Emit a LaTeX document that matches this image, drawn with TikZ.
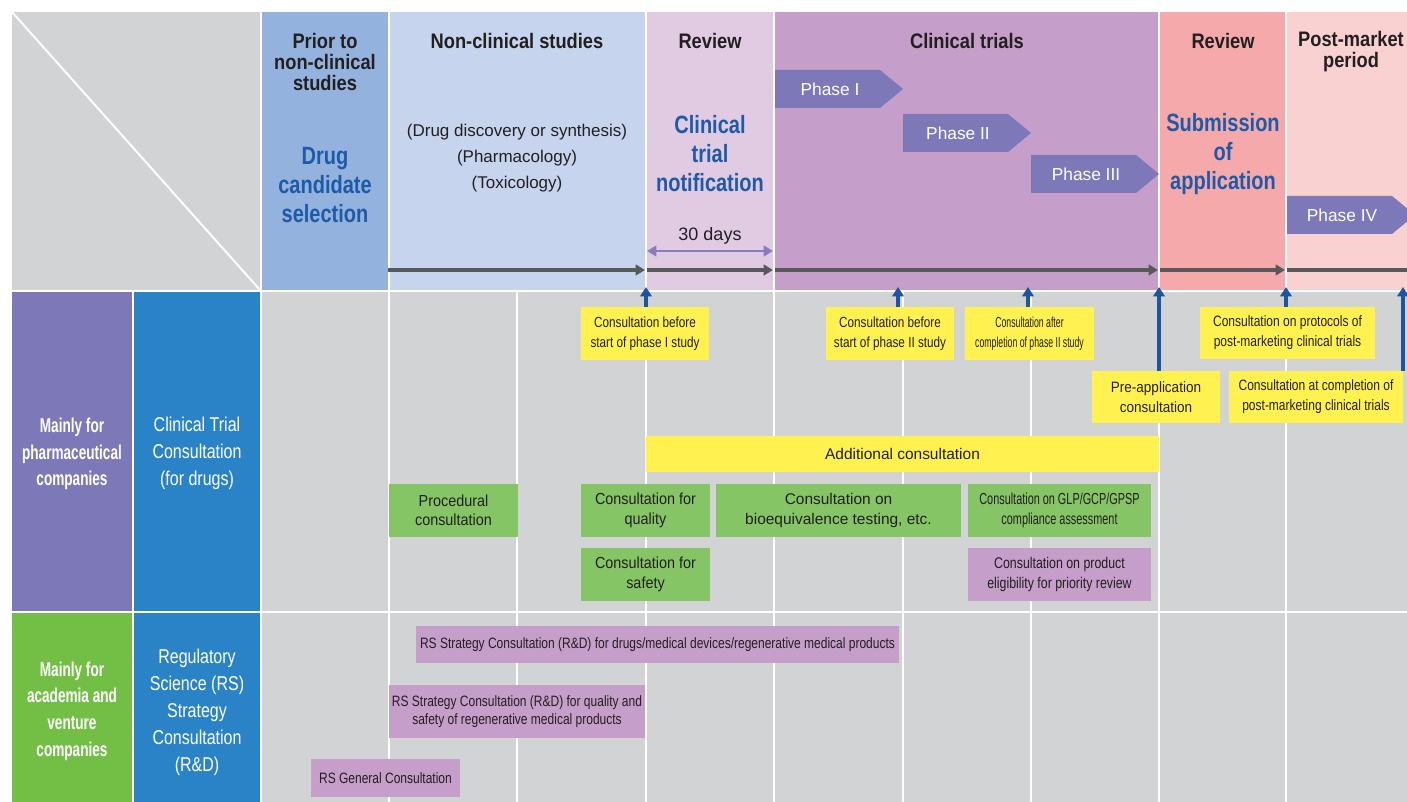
\documentclass[tikz,border=0pt]{standalone}
\usepackage{fontspec}
\setmainfont{Liberation Sans}
\newfontfamily\hfont[FakeStretch=0.87]{Liberation Sans}
\newfontfamily\mfont[FakeStretch=0.8]{Liberation Sans}
\newfontfamily\gfont[FakeStretch=0.9]{Liberation Sans}
\newfontfamily\cfont[FakeStretch=0.68]{Liberation Sans}
\newfontfamily\xfont[FakeStretch=0.6]{Liberation Sans}
\usetikzlibrary{arrows.meta}
\definecolor{cgray}{HTML}{D1D3D4}
\definecolor{cprior}{HTML}{93B3DE}
\definecolor{cnon}{HTML}{C6D4EE}
\definecolor{crev}{HTML}{E0CBE3}
\definecolor{cclin}{HTML}{C59EC9}
\definecolor{csub}{HTML}{F5A9AB}
\definecolor{cpost}{HTML}{F9D1D0}
\definecolor{cphase}{HTML}{7D78B8}
\definecolor{cleftblue}{HTML}{2983C6}
\definecolor{cleftgreen}{HTML}{73BF45}
\definecolor{cyellow}{HTML}{FFF250}
\definecolor{cgreen}{HTML}{86C566}
\definecolor{cpurple}{HTML}{C59EC9}
\definecolor{cblue}{HTML}{1D5AA7}
\definecolor{carrow}{HTML}{1F55A0}
\definecolor{cline}{HTML}{58595B}
\definecolor{cdays}{HTML}{887EBF}
\definecolor{ink}{HTML}{231F20}
\tikzset{
	box/.style 2 args={minimum width=#1*0.75pt,minimum height=#2*0.75pt,inner sep=0pt,align=center,text=ink},
	ybox/.style 2 args={box={#1}{#2},fill=cyellow},
	gbox/.style 2 args={box={#1}{#2},fill=cgreen},
	pbox/.style 2 args={box={#1}{#2},fill=cpurple},
	headtxt/.style={align=center,text=ink,font=\hfont\bfseries\fontsize{15.75}{15.75}\selectfont},
	bluetxt/.style={align=center,text=cblue,font=\mfont\bfseries\fontsize{18.75}{21.75}\selectfont},
	subtxt/.style={align=center,text=ink,font=\fontsize{12.75}{19.3}\selectfont},
	phasetxt/.style={text=white,font=\fontsize{13}{15}\selectfont},
	lefttxt/.style={align=center,text=white,font=\cfont\bfseries\fontsize{15}{20}\selectfont},
	cattxt/.style={align=center,text=white,font=\mfont\fontsize{15}{20.25}\selectfont},
	tline/.style={cline,line width=2.5pt,-{Triangle[length=7pt,width=8pt]}},
	uparrow/.style={carrow,line width=3pt,-{Triangle[length=7pt,width=8.5pt]}},
	dayline/.style={cdays,line width=2.2pt,{Triangle[length=7pt,width=8pt]}-{Triangle[length=7pt,width=8pt]}}
}
\begin{document}
\begin{tikzpicture}[x=0.75pt,y=-0.75pt]
	\useasboundingbox (0,0) rectangle (1407,802);
	\clip (0,0) rectangle (1407,802);
	\fill[white] (0,0) rectangle (1407,802);

	% header columns
	\fill[cgray] (12,12) rectangle (260,290);
	\draw[white,line width=1.5pt] (12,12) -- (260,290);
	\fill[cprior] (262,12) rectangle (388,290);
	\fill[cnon] (390,12) rectangle (645,290);
	\fill[crev] (647,12) rectangle (773,290);
	\fill[cclin] (775,12) rectangle (1158,290);
	\fill[csub] (1160,12) rectangle (1285,290);
	\fill[cpost] (1287,12) rectangle (1420,290);

	\fill[cphase] (12,292) rectangle (132,611);
	\fill[cleftblue] (134,292) rectangle (260,611);
	\fill[cleftgreen] (12,613) rectangle (132,810);
	\fill[cleftblue] (134,613) rectangle (260,810);
	\fill[cgray] (262,292) rectangle (1420,611);
	\fill[cgray] (262,613) rectangle (1420,810);
	\foreach \x in {389,517,646,774,903,1031,1159,1286}
		\draw[white,line width=1.9pt] (\x,292) -- (\x,810);

	\node[headtxt] (prior) at (325,62) {Prior to\\non-clinical\\studies};
	\node[bluetxt] (drug) at (325,185) {Drug\\candidate\\selection};
	\node[headtxt] (nonclin) at (517,41) {Non-clinical studies};
	\node[subtxt] (studies) at (517,158) {(Drug discovery or synthesis)\\(Pharmacology)\\(Toxicology)};
	\node[headtxt] (review) at (710,41) {Review};
	\node[bluetxt] (notif) at (710,154) {Clinical\\trial\\notification};
	\node[text=ink,font=\fontsize{13.5}{15}\selectfont] (days) at (710,236) {30 days};
	\node[headtxt] (clin) at (967,41) {Clinical trials};
	\node[headtxt] (review2) at (1223,41) {Review};
	\node[bluetxt] (submit) at (1223,154) {Submission\\of\\application};
	\node[headtxt] (post) at (1351,52) {Post-market\\period};

	\foreach \x/\y/\nm/\lbl in {775/70/ph1/Phase I,903/114/ph2/Phase II,1031/155/ph3/Phase III,1287/196/ph4/Phase IV}{
		\fill[cphase] (\x,\y) -- (\x+105,\y) -- (\x+128,\y+19) -- (\x+105,\y+38) -- (\x,\y+38) -- cycle;
		\node[phasetxt] (\nm) at (\x+55,\y+19) {\lbl};
	}

	\coordinate (d0) at (647,251);
	\coordinate (d1) at (773,251);
	\draw[dayline] (d0) -- (d1);

	\foreach \a/\b in {388/645,647/773,775/1158,1160/1285,1287/1417}
		\draw[tline] (\a,270) -- (\b,270);

	\node[lefttxt] (pharma) at (72,454) {Mainly for\\pharmaceutical\\companies};
	\node[cattxt] (ctc) at (197,453) {Clinical Trial\\Consultation\\(for drugs)};
	\node[lefttxt] (acad) at (72,711) {Mainly for\\academia and\\venture\\companies};
	\node[cattxt] (rsc) at (197,712) {Regulatory\\Science (RS)\\Strategy\\Consultation\\(R\&D)};

	% consultations
	\node[ybox={128}{53},font=\mfont\fontsize{11}{15}\selectfont] (c1) at (645,333.5) {Consultation before\\start of phase I study};
	\node[ybox={128}{53},font=\mfont\fontsize{11}{15}\selectfont] (c2) at (890,333.5) {Consultation before\\start of phase II study};
	\node[ybox={129}{53},font=\xfont\fontsize{10.9}{15}\selectfont] (c3) at (1029.5,333.5) {Consultation after\\completion of phase II study};
	\node[ybox={128}{52},font=\gfont\fontsize{11.25}{15}\selectfont] (pre) at (1156,397) {Pre-application\\consultation};
	\node[ybox={175}{52},font=\mfont\fontsize{11.25}{15}\selectfont] (prot) at (1287.5,333) {Consultation on protocols of\\post-marketing clinical trials};
	\node[ybox={174}{52},font=\mfont\fontsize{11.25}{15}\selectfont] (cmp) at (1316,397) {Consultation at completion of\\post-marketing clinical trials};
	\node[ybox={513}{36},font=\fontsize{11.6}{14}\selectfont] (extra) at (902.5,454) {Additional consultation};

	\coordinate (up1) at (646,287);
	\coordinate (up2) at (898,287);
	\coordinate (up3) at (1028,287);
	\coordinate (up4) at (1159,287);
	\coordinate (up5) at (1286,287);
	\coordinate (up6) at (1403,287);
	\draw[uparrow] (c1.north -| up1) -- (up1);
	\draw[uparrow] (c2.north -| up2) -- (up2);
	\draw[uparrow] (c3.north -| up3) -- (up3);
	\draw[uparrow] (pre.north -| up4) -- (up4);
	\draw[uparrow] (prot.north -| up5) -- (up5);
	\draw[uparrow] (cmp.north -| up6) -- (up6);

	\node[gbox={129}{53},font=\gfont\fontsize{12}{14.5}\selectfont] (proc) at (453.5,510.5) {Procedural\\consultation};
	\node[gbox={129}{53},font=\gfont\fontsize{12}{14.5}\selectfont] (qual) at (645.5,510.5) {Consultation for\\quality};
	\node[gbox={245}{53},font=\fontsize{11.6}{14.5}\selectfont] (bioe) at (838.5,510.5) {Consultation on\\bioequivalence testing, etc.};
	\node[gbox={183}{53},font=\cfont\fontsize{12}{14.5}\selectfont] (glp) at (1059.5,510.5) {Consultation on GLP/GCP/GPSP\\compliance assessment};
	\node[gbox={129}{53},font=\gfont\fontsize{12}{14.5}\selectfont] (safe) at (645.5,574.5) {Consultation for\\safety};
	\node[pbox={183}{53},font=\mfont\fontsize{11.6}{14.5}\selectfont] (prio) at (1059.5,574.5) {Consultation on product\\eligibility for priority review};

	\node[pbox={483}{37},font=\mfont\fontsize{11.25}{14}\selectfont] (rsd) at (657.5,644.5) {RS Strategy Consultation (R\&D) for drugs/medical devices/regenerative medical products};
	\node[pbox={256}{53},font=\mfont\fontsize{11.25}{14}\selectfont] (rsq) at (517,711.5) {RS Strategy Consultation (R\&D) for quality and\\safety of regenerative medical products};
	\node[pbox={149}{38},font=\mfont\fontsize{11.25}{14}\selectfont] (rsg) at (385.5,778) {RS General Consultation};
\end{tikzpicture}
\end{document}
